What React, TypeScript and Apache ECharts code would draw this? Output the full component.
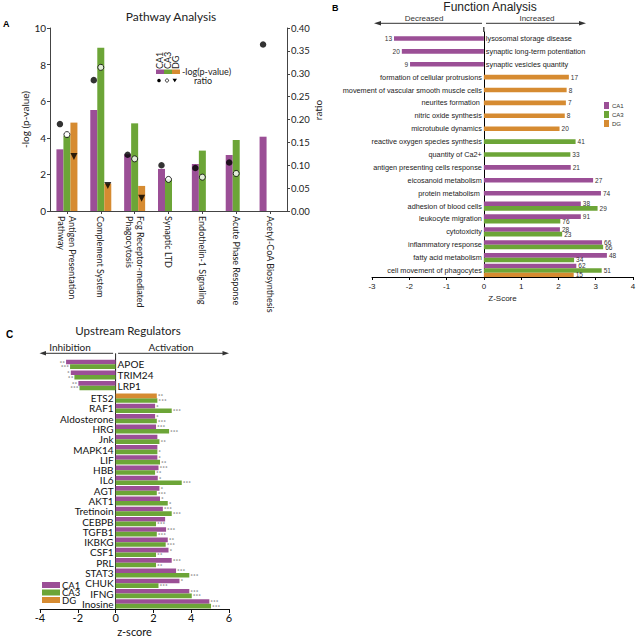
import React, { useEffect, useRef } from 'react';
import * as echarts from 'echarts';

const PURPLE = '#9B4F96';
const GREEN = '#6CA537';
const ORANGE = '#D68B31';
const FONT_AC = 'Lato, "Liberation Sans", sans-serif';
const FONT_B = '"Liberation Sans", Arial, sans-serif';

// ---------- Panel A: Pathway Analysis ----------
const pathways = [
  'Antigen Presentation\nPathway',
  'Complement System',
  'Fcg Receptor-mediated\nPhagocytosis',
  'Synaptic LTD',
  'Endothelin-1 Signaling',
  'Acute Phase Response',
  'Acetyl-CoA Biosynthesis',
];
const pathCA1 = [3.37, 5.52, 3.1, 2.3, 2.57, 3.06, 4.06];
const pathCA3 = [4.1, 8.92, 4.79, 1.73, 3.3, 3.88, null];
const pathDG = [4.83, 1.5, 1.37, null, null, null, null];
const ratioCA1 = [0.19, 0.286, 0.123, 0.1, 0.094, 0.106, 0.364];
const ratioCA3 = [0.167, 0.314, 0.114, 0.069, 0.074, 0.082, null];
const ratioDG = [0.119, 0.056, 0.028, null, null, null, null];

// ---------- Panel B: Function Analysis ----------
const fnCategories = [
  'lysosomal storage disease',
  'synaptic long-term potentiation',
  'synaptic vesicles quantity',
  'formation of cellular protrusions',
  'movement of vascular smooth muscle cells',
  'neurites formation ',
  'nitric oxide synthesis',
  'microtubule dynamics',
  'reactive oxygen species synthesis',
  'quantity of Ca2+',
  'antigen presenting cells response',
  'eicosanoid metabolism',
  'protein metabolism ',
  'adhesion of blood cells',
  'leukocyte migration',
  'cytotoxicity',
  'inflammatory response',
  'fatty acid metabolism',
  'cell movement of phagocytes',
];
const fnCA1 = [-2.41, -2.2, -1.98, null, null, null, null, null, null, null, 2.33, 2.93, 3.14, 2.6, 2.6, 2.04, 3.17, 3.3, 2.48];
const fnCA1N = [13, 20, 9, null, null, null, null, null, null, null, 21, 27, 74, 38, 91, 28, 66, 48, 62];
const fnCA3 = [null, null, null, null, null, null, null, null, 2.46, 2.32, null, null, null, 3.05, 2.05, 2.1, 3.2, 2.42, 3.16];
const fnCA3N = [null, null, null, null, null, null, null, null, 41, 33, null, null, null, 29, 76, 23, 66, 34, 51];
const fnDG = [null, null, null, 2.28, 2.22, 2.2, 2.17, 2.03, null, null, null, null, null, null, null, null, null, null, 2.41];
const fnDGN = [null, null, null, 17, 8, 7, 8, 20, null, null, null, null, null, null, null, null, null, null, 15];
const fnRange = [-3, 4];

// ---------- Panel C: Upstream Regulators ----------
const upTopCats = ['APOE', 'TRIM24', 'LRP1'];
const upTopCA1 = [-2.62, -2.37, -1.97];
const upTopCA3 = [-2.41, -2.18, -1.91];
const upTopCA1Stars = ['**', '*', '**'];
const upTopCA3Stars = ['***', '**', '***'];

const upCats = ['ETS2', 'RAF1', 'Aldosterone', 'HRG', 'Jnk', 'MAPK14', 'LIF', 'HBB', 'IL6', 'AGT', 'AKT1', 'Tretinoin', 'CEBPB', 'TGFB1', 'IKBKG', 'CSF1', 'PRL', 'STAT3', 'CHUK', 'IFNG', 'Inosine'];
const upCA1 = [null, 2.09, 2.09, 2.14, 2.21, 2.21, 2.21, 2.27, 2.23, 2.32, 2.35, 2.5, 2.62, 2.67, 2.76, 2.8, 2.97, 3.2, 3.38, 3.9, 4.96];
const upCA3 = [2.21, 2.97, 2.18, 2.83, 2.32, 2.21, 2.35, 2.09, 3.5, 2.18, 2.76, 2.97, 2.14, 2.18, 2.65, 2.14, 2.14, 3.9, 2.27, 4.03, 5.05];
const upDG = [2.18, null, null, null, null, null, null, null, null, null, null, null, null, null, null, null, null, null, null, null, null];
const upCA1Stars = ['', '*', '*', '***', '', '', '*', '***', '*', '*', '*', '***', '', '***', '**', '*', '***', '***', '*', '***', '***'];
const upCA3Stars = ['***', '***', '***', '***', '**', '*', '**', '**', '***', '***', '*', '***', '***', '***', '***', '**', '**', '***', '***', '***', '***'];
const upDGStars = ['**', '', '', '', '', '', '', '', '', '', '', '', '', '', '', '', '', '', '', '', ''];
const upRange = [-4, 6];

// grid geometry
const GB = { left: 372, top: 32, width: 261, height: 245 };
const GC1 = { left: 40, top: 359, width: 189, height: 32 };
const GC2 = { left: 40, top: 393, width: 189, height: 216 };

function zeroX(g: { left: number; width: number }, range: number[]) {
  return g.left + (g.width * (0 - range[0])) / (range[1] - range[0]);
}

function buildOption() {
  const zB = zeroX(GB, fnRange);
  const zC = zeroX(GC2, upRange);

  // ---- Panel B grouping by number of bars per row ----
  const fnGroups = [
    { key: 'CA1', values: fnCA1, counts: fnCA1N, color: PURPLE },
    { key: 'CA3', values: fnCA3, counts: fnCA3N, color: GREEN },
    { key: 'DG', values: fnDG, counts: fnDGN, color: ORANGE },
  ];
  const rowK = fnCategories.map((_, i) => fnGroups.filter((g) => g.values[i] != null).length);
  const labelB = { show: true, fontSize: 6.5, lineHeight: 5, color: '#333', fontFamily: FONT_B, distance: 2 };
  const singleData = fnCategories.map((_, i) => {
    if (rowK[i] !== 1) return null;
    const g = fnGroups.find((gg) => gg.values[i] != null)!;
    const v = g.values[i] as number;
    return {
      value: v,
      itemStyle: { color: g.color },
      label: { ...labelB, position: v < 0 ? 'left' : 'right', formatter: String(g.counts[i]) },
    };
  });
  const seriesB: any[] = [
    { name: 'single', type: 'bar', xAxisIndex: 1, yAxisIndex: 2, barWidth: 4.6, data: singleData, label: labelB },
  ];
  [2, 3].forEach((k, ki) => {
    const groupsK = fnGroups.filter((g) => fnCategories.some((_, i) => rowK[i] === k && g.values[i] != null));
    groupsK.forEach((g) => {
      seriesB.push({
        name: g.key,
        type: 'bar',
        xAxisIndex: 1,
        yAxisIndex: 3 + ki,
        barWidth: 4.6,
        barGap: '0%',
        itemStyle: { color: g.color },
        data: fnCategories.map((_, i) => {
          if (rowK[i] !== k || g.values[i] == null) return null;
          const v = g.values[i] as number;
          return { value: v, label: { ...labelB, position: v < 0 ? 'left' : 'right', formatter: String(g.counts[i]) } };
        }),
        label: labelB,
      });
    });
  });

  const fnLabelSide = fnCategories.map((_, i) => {
    const vals = fnGroups.map((g) => g.values[i]).filter((v) => v != null) as number[];
    return vals.every((v) => v < 0) ? 'neg' : 'pos';
  });

  // ---- Panel C series ----
  const starLabel = (stars: string[], side: string) => ({
    show: true,
    position: side,
    distance: 1,
    fontSize: 6.5,
    lineHeight: 4.4,
    color: '#555',
    fontFamily: FONT_AC,
    formatter: (p: any) => stars[p.dataIndex] || '',
  });

  const catAxisC = {
    type: 'category',
    inverse: true,
    axisTick: { show: false },
    axisLine: { show: true, onZero: true, lineStyle: { color: '#222', width: 1 } },
    splitLine: { show: false },
  };

  const txt = (x: number, y: number, text: string, fontSize: number, fontFamily: string, align = 'center', extra: any = {}) => ({
    type: 'text',
    x,
    y,
    ...extra,
    style: { text, fontSize, fontFamily, fill: '#222', align, verticalAlign: 'middle', ...(extra.style || {}) },
  });

  const graphic: any[] = [
    // Panel letters
    txt(3, 24, 'A', 9, FONT_B, 'left', { style: { fontWeight: 'bold', fill: '#000' } }),
    txt(332, 8, 'B', 9, FONT_B, 'left', { style: { fontWeight: 'bold', fill: '#000' } }),
    txt(6, 334, 'C', 10, FONT_B, 'left', { style: { fontWeight: 'bold', fill: '#000' } }),
    // Titles
    txt(171, 16, 'Pathway Analysis', 12, FONT_AC),
    txt(490, 7, 'Function Analysis', 12, FONT_B),
    txt(128, 330, 'Upstream Regulators', 11.5, FONT_AC),
    // Panel A right axis name
    txt(318, 110, 'ratio', 10, FONT_AC, 'center', { rotation: Math.PI / 2 }),
    // Panel A legend
    txt(159.5, 69, 'CA1', 9, FONT_AC, 'left', { rotation: Math.PI / 2 }),
    txt(167, 69, 'CA3', 9, FONT_AC, 'left', { rotation: Math.PI / 2 }),
    txt(175, 69, 'DG', 9, FONT_AC, 'left', { rotation: Math.PI / 2 }),
    { type: 'rect', shape: { x: 156, y: 69.5, width: 8, height: 4.5 }, style: { fill: PURPLE } },
    { type: 'rect', shape: { x: 164, y: 69.5, width: 8, height: 4.5 }, style: { fill: GREEN } },
    { type: 'rect', shape: { x: 172, y: 69.5, width: 8, height: 4.5 }, style: { fill: ORANGE } },
    txt(182, 71.5, '-log(p-value)', 9, FONT_AC, 'left'),
    { type: 'circle', shape: { cx: 159, cy: 80.5, r: 1.8 }, style: { fill: '#000' } },
    { type: 'circle', shape: { cx: 167, cy: 80.5, r: 1.6 }, style: { fill: '#fff', stroke: '#000', lineWidth: 0.8 } },
    { type: 'polygon', shape: { points: [[172.5, 78.8], [177, 78.8], [174.75, 82.3]] }, style: { fill: '#000' } },
    txt(203, 80, 'ratio', 9, FONT_AC),
    // Panel B arrows
    { type: 'line', shape: { x1: 379, y1: 23.3, x2: 482, y2: 23.3 }, style: { stroke: '#333', lineWidth: 1 } },
    { type: 'polygon', shape: { points: [[374, 23.3], [381, 21], [381, 25.6]] }, style: { fill: '#333' } },
    { type: 'line', shape: { x1: 486, y1: 23.3, x2: 581, y2: 23.3 }, style: { stroke: '#333', lineWidth: 1 } },
    { type: 'polygon', shape: { points: [[586, 23.3], [579, 21], [579, 25.6]] }, style: { fill: '#333' } },
    txt(424, 18, 'Decreased', 8, FONT_B, 'center', { style: { fill: '#333' } }),
    txt(537, 18, 'Increased', 8, FONT_B, 'center', { style: { fill: '#333' } }),
    { type: 'line', shape: { x1: zB, y1: 27, x2: zB, y2: GB.top }, style: { stroke: '#000', lineWidth: 1 } },
    // Panel C arrows
    { type: 'line', shape: { x1: 44, y1: 353.3, x2: zC - 2.5, y2: 353.3 }, style: { stroke: '#333', lineWidth: 1 } },
    { type: 'polygon', shape: { points: [[39.5, 353.3], [46, 351], [46, 355.6]] }, style: { fill: '#333' } },
    { type: 'line', shape: { x1: zC + 2.5, y1: 353.3, x2: 224, y2: 353.3 }, style: { stroke: '#333', lineWidth: 1 } },
    { type: 'polygon', shape: { points: [[229, 353.3], [222.5, 351], [222.5, 355.6]] }, style: { fill: '#333' } },
    txt(70, 347, 'Inhibition', 10, FONT_AC),
    txt(171, 347, 'Activation', 10, FONT_AC),
    { type: 'line', shape: { x1: zC, y1: 353.3, x2: zC, y2: GC2.top }, style: { stroke: '#222', lineWidth: 1 } },
  ];

  const option: any = {
    animation: false,
    backgroundColor: '#fff',
    textStyle: { fontFamily: FONT_AC },
    graphic,
    legend: [
      {
        data: ['CA1', 'CA3', 'DG'],
        orient: 'vertical',
        left: 604,
        top: 102,
        padding: 0,
        itemWidth: 5,
        itemHeight: 7,
        itemGap: 2,
        icon: 'rect',
        selectedMode: false,
        textStyle: { fontSize: 6, color: '#333', fontFamily: FONT_B, padding: [0, 0, 0, -2] },
      },
      {
        data: ['CA1', 'CA3', 'DG'],
        orient: 'vertical',
        left: 42,
        top: 580,
        padding: 0,
        itemWidth: 18,
        itemHeight: 6,
        itemGap: -2.5,
        icon: 'rect',
        selectedMode: false,
        textStyle: { fontSize: 9.5, color: '#111', fontFamily: FONT_AC, padding: [0, 0, 0, -3] },
      },
    ],
    grid: [
      { left: 50, top: 28, width: 237, height: 183, outerBoundsMode: 'none' },
      { ...GB, outerBoundsMode: 'none' },
      { ...GC1, outerBoundsMode: 'none' },
      { ...GC2, outerBoundsMode: 'none' },
    ],
    xAxis: [
      {
        gridIndex: 0,
        type: 'category',
        data: pathways,
        axisLine: { lineStyle: { color: '#444' } },
        axisTick: { show: true, alignWithLabel: true, length: 3, lineStyle: { color: '#444' } },
        axisLabel: { rotate: -90, interval: 0, fontSize: 9, color: '#222', margin: 5, lineHeight: 11, fontFamily: FONT_AC },
      },
      {
        gridIndex: 1,
        type: 'value',
        min: fnRange[0],
        max: fnRange[1],
        interval: 1,
        splitLine: { show: false },
        axisLine: { show: true, lineStyle: { color: '#000' } },
        axisTick: { show: true, length: 3, lineStyle: { color: '#000' } },
        axisLabel: { fontSize: 8, color: '#222', margin: 5, fontFamily: FONT_B },
        name: 'Z-Score',
        nameLocation: 'middle',
        nameGap: 17,
        nameTextStyle: { fontSize: 8, color: '#222', fontFamily: FONT_B },
      },
      { gridIndex: 2, type: 'value', min: upRange[0], max: upRange[1], show: false },
      {
        gridIndex: 3,
        type: 'value',
        min: upRange[0],
        max: upRange[1],
        interval: 2,
        splitLine: { show: false },
        axisLine: { show: true, lineStyle: { color: '#111' } },
        axisTick: { show: true, length: 4, lineStyle: { color: '#111' } },
        axisLabel: { fontSize: 11, color: '#111', margin: 3, fontFamily: FONT_AC },
        name: 'z-score',
        nameLocation: 'middle',
        nameGap: 17,
        nameTextStyle: { fontSize: 11, color: '#111', fontFamily: FONT_AC },
      },
    ],
    yAxis: [
      {
        gridIndex: 0,
        type: 'value',
        min: 0,
        max: 10,
        interval: 2,
        splitLine: { show: false },
        axisLine: { show: true, lineStyle: { color: '#444' } },
        axisTick: { show: true, length: 3, lineStyle: { color: '#444' } },
        axisLabel: { fontSize: 10, color: '#222', margin: 4 },
        name: '-log (p-value)',
        nameLocation: 'middle',
        nameGap: 16,
        nameTextStyle: { fontSize: 10, color: '#222' },
      },
      {
        gridIndex: 0,
        type: 'value',
        position: 'right',
        min: 0,
        max: 0.4,
        interval: 0.05,
        splitLine: { show: false },
        axisLine: { show: true, lineStyle: { color: '#444' } },
        axisTick: { show: true, length: 3, lineStyle: { color: '#444' } },
        axisLabel: { fontSize: 9.5, color: '#222', margin: 4, formatter: (v: number) => v.toFixed(2) },
      },
      {
        gridIndex: 1,
        type: 'category',
        data: fnCategories,
        inverse: true,
        position: 'left',
        axisTick: { show: false },
        axisLine: { show: true, onZero: true, onZeroAxisIndex: 1, lineStyle: { color: '#000' } },
        axisLabel: {
          fontSize: 7.3,
          color: '#222',
          margin: -(zB - 2 - GB.left),
          interval: 0,
          hideOverlap: false,
          fontFamily: FONT_B,
          formatter: (v: string, i: number) => (fnLabelSide[i] === 'pos' ? v : ''),
        },
      },
      {
        gridIndex: 1,
        type: 'category',
        data: fnCategories,
        inverse: true,
        position: 'right',
        axisTick: { show: false },
        axisLine: { show: false, onZero: true, onZeroAxisIndex: 1 },
        axisLabel: {
          fontSize: 7.3,
          color: '#222',
          margin: -(GB.left + GB.width - zB - 2),
          interval: 0,
          hideOverlap: false,
          fontFamily: FONT_B,
          formatter: (v: string, i: number) => (fnLabelSide[i] === 'neg' ? v : ''),
        },
      },
      { gridIndex: 1, type: 'category', data: fnCategories, inverse: true, show: false },
      {
        ...catAxisC,
        gridIndex: 2,
        data: upTopCats,
        position: 'right',
        axisLine: { ...catAxisC.axisLine, onZeroAxisIndex: 2 },
        axisLabel: { fontSize: 10, color: '#111', fontFamily: FONT_AC, interval: 0, margin: -(GC1.left + GC1.width - zC - 2) },
      },
      {
        ...catAxisC,
        gridIndex: 3,
        data: upCats,
        position: 'left',
        axisLine: { ...catAxisC.axisLine, onZeroAxisIndex: 3 },
        axisLabel: { fontSize: 10, color: '#111', fontFamily: FONT_AC, interval: 0, hideOverlap: false, margin: -(zC - 2 - GC2.left) },
      },
    ],
    series: [
      // Panel A bars
      { name: 'CA1', type: 'bar', xAxisIndex: 0, yAxisIndex: 0, data: pathCA1, barWidth: 7, barGap: '0%', itemStyle: { color: PURPLE } },
      { name: 'CA3', type: 'bar', xAxisIndex: 0, yAxisIndex: 0, data: pathCA3, barWidth: 7, barGap: '0%', itemStyle: { color: GREEN } },
      { name: 'DG', type: 'bar', xAxisIndex: 0, yAxisIndex: 0, data: pathDG, barWidth: 7, barGap: '0%', itemStyle: { color: ORANGE } },
      // Panel A ratios
      { name: 'CA1 ratio', type: 'scatter', xAxisIndex: 0, yAxisIndex: 1, data: ratioCA1, symbol: 'circle', symbolSize: 6.5, symbolOffset: [-7, 0], itemStyle: { color: '#000' }, z: 5 },
      { name: 'CA3 ratio', type: 'scatter', xAxisIndex: 0, yAxisIndex: 1, data: ratioCA3, symbol: 'circle', symbolSize: 6, symbolOffset: [0, 0], itemStyle: { color: '#fff', borderColor: '#000', borderWidth: 1 }, z: 5 },
      { name: 'DG ratio', type: 'scatter', xAxisIndex: 0, yAxisIndex: 1, data: ratioDG, symbol: 'triangle', symbolRotate: 180, symbolSize: 7, symbolOffset: [7, 0], itemStyle: { color: '#000' }, z: 5 },
      // Panel B
      ...seriesB,
      // Panel C top
      { name: 'CA1', type: 'bar', xAxisIndex: 2, yAxisIndex: 5, data: upTopCA1, barWidth: 4.6, barGap: '0%', itemStyle: { color: PURPLE }, label: starLabel(upTopCA1Stars, 'left') },
      { name: 'CA3', type: 'bar', xAxisIndex: 2, yAxisIndex: 5, data: upTopCA3, barWidth: 4.6, barGap: '0%', itemStyle: { color: GREEN }, label: starLabel(upTopCA3Stars, 'left') },
      // Panel C bottom
      { name: 'CA1', type: 'bar', xAxisIndex: 3, yAxisIndex: 6, stack: 'top', data: upCA1, barWidth: 4.6, barGap: '0%', itemStyle: { color: PURPLE }, label: starLabel(upCA1Stars, 'right') },
      { name: 'CA3', type: 'bar', xAxisIndex: 3, yAxisIndex: 6, data: upCA3, barWidth: 4.6, barGap: '0%', itemStyle: { color: GREEN }, label: starLabel(upCA3Stars, 'right') },
      { name: 'DG', type: 'bar', xAxisIndex: 3, yAxisIndex: 6, stack: 'top', data: upDG, barWidth: 4.6, barGap: '0%', itemStyle: { color: ORANGE }, label: starLabel(upDGStars, 'right') },
    ],
  };
  return option;
}

export default function App() {
  const ref = useRef<HTMLDivElement>(null);
  useEffect(() => {
    if (!ref.current) return;
    const chart = echarts.init(ref.current, null, { renderer: 'svg' });
    chart.setOption(buildOption());
    return () => chart.dispose();
  }, []);
  return <div ref={ref} style={{ position: 'absolute', left: 0, top: 0, width: 636, height: 639, background: '#fff' }} />;
}
